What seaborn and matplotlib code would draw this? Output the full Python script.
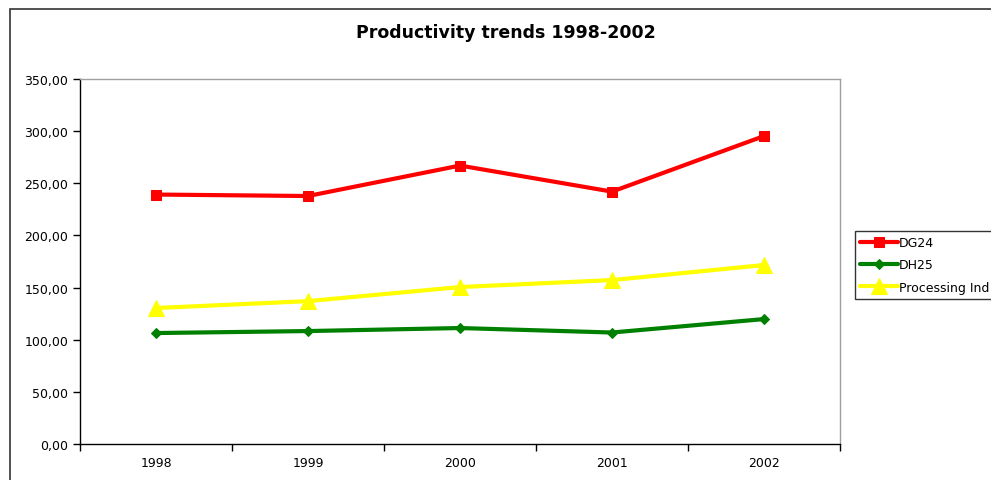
import numpy as np
import pandas as pd
import seaborn as sns
import matplotlib.pyplot as plt
from matplotlib.patches import Rectangle
from matplotlib.ticker import FuncFormatter, FixedLocator

years = ["1998", "1999", "2000", "2001", "2002"]
dg24 = [239.2, 237.8, 267.0, 242.0, 295.3]
dh25 = [106.4, 108.3, 111.2, 106.9, 119.8]
processing = [130.4, 137.0, 150.5, 157.2, 171.6]

series_names = ["DG24", "DH25", "Processing Ind"]
colors = {"DG24": "#ff0000", "DH25": "#008000", "Processing Ind": "#ffff00"}
markers = {"DG24": "s", "DH25": "D", "Processing Ind": "^"}
msizes = {"DG24": 7, "DH25": 5, "Processing Ind": 11}

sns.set_style("white")
plt.rcParams["font.family"] = ["DejaVu Sans"]
plt.rcParams.update({
    "xtick.bottom": True, "ytick.left": True,
    "xtick.major.size": 5, "ytick.major.size": 5,
    "xtick.color": "black", "ytick.color": "black",
    "text.color": "black",
})

df = pd.DataFrame({
    "Year": years * 3,
    "x": list(range(len(years))) * 3,
    "Value": dg24 + dh25 + processing,
    "Series": np.repeat(series_names, len(years)),
})

fig = plt.figure(figsize=(9.91, 4.81), dpi=100)
ax = fig.add_axes([80 / 991, 1 - 445 / 481, 760 / 991, 365 / 481])

for name in series_names:
    sub = df[df["Series"] == name]
    sns.lineplot(data=sub, x="x", y="Value", ax=ax, color=colors[name],
                 marker=markers[name], markersize=msizes[name],
                 markeredgecolor=colors[name], linewidth=3, label=name)

ax.set_xlim(-0.5, len(years) - 0.5)
ax.set_ylim(0, 350)
ax.set_yticks(np.arange(0, 351, 50))
ax.yaxis.set_major_formatter(FuncFormatter(lambda v, p: f"{v:.2f}".replace(".", ",")))
ax.xaxis.set_major_locator(FixedLocator(np.arange(-0.5, len(years), 1.0)))
ax.xaxis.set_major_formatter(FuncFormatter(lambda v, p: ""))
ax.xaxis.set_minor_locator(FixedLocator(range(len(years))))
ax.set_xticklabels(years, minor=True)
ax.tick_params(axis="x", which="minor", bottom=False, pad=7, labelsize=9)
ax.tick_params(axis="x", which="major", bottom=True, length=5, direction="out", width=1)
ax.tick_params(axis="y", which="major", left=True, length=5, direction="out", labelsize=9, width=1)
ax.set_xlabel("")
ax.set_ylabel("")

ax.spines["left"].set_color("black")
ax.spines["bottom"].set_color("black")
ax.spines["top"].set_color("#a0a0a0")
ax.spines["right"].set_color("#a0a0a0")
for s in ax.spines.values():
    s.set_linewidth(1)

leg = ax.legend(loc="upper left", bbox_to_anchor=(855 / 991, 1 - 232 / 481),
                bbox_transform=fig.transFigure, frameon=True, fancybox=False,
                edgecolor="black", fontsize=9, handlelength=3, handletextpad=0.1,
                borderpad=0.4, labelspacing=0.75, borderaxespad=0)
leg.get_frame().set_linewidth(1)

fig.text(0.51, 1 - 33 / 481, "Productivity trends 1998-2002", ha="center", va="center",
         fontsize=12.5, fontweight="bold")

fig.patches.append(Rectangle((10 / 991, -0.1), 1.2, 1 - 10 / 481 + 0.1,
                             transform=fig.transFigure, fill=False,
                             edgecolor="#333333", linewidth=1.2))

fig.savefig("out.png", dpi=100)
